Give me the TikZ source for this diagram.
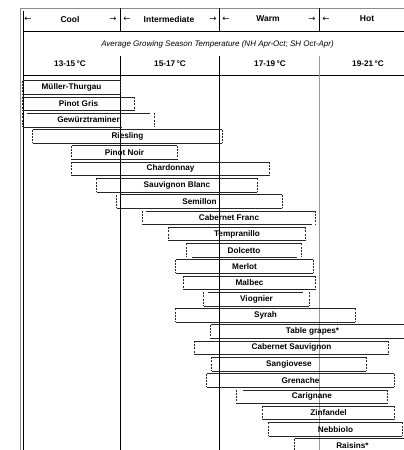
\documentclass[tikz,border=0pt]{standalone}
\usepackage{fontspec}
\setmainfont{Liberation Sans}
\newfontfamily\arrowfont{DejaVu Sans}
\tikzset{
  grape/.style={inner sep=0pt, minimum height=13pt, font=\bfseries\fontsize{8.2}{9}\selectfont},
  head/.style={inner sep=0pt, font=\bfseries\fontsize{8.5}{9}\selectfont},
  temp/.style={inner sep=0pt, font=\bfseries\fontsize{8.2}{9}\selectfont},
  harrow/.style={inner sep=0pt, font=\arrowfont\fontsize{8.5}{9}\selectfont},
  rim/.style={dash pattern=on 2pt off 1.2pt},
}

\begin{document}
\begin{tikzpicture}[x=1pt, y=-1pt, line width=0.6pt]
\useasboundingbox (0,0) rectangle (404,450);

% frame and grid
\draw[black!45] (20,450) -- (20,8) -- (404,8);
\draw (23,11) -- (23,450);
\draw (23,31) -- (404,31);
\draw (23,75.5) -- (404,75.5);
\foreach \x in {120,219.5}
  \draw (\x,8) -- (\x,31) (\x,56) -- (\x,450);
\draw (319,8) -- (319,31);
\draw[black!40] (319,56) -- (319,450);

% climate classes
\node[head] (cool) at (70,19) {Cool};
\node[head] (interm) at (169,19) {Intermediate};
\node[head] (warm) at (268,19) {Warm};
\node[head] (hot) at (367,19) {Hot};
\foreach \nm/\x/\g in {al1/28/←, ar1/113/→, al2/127/←, ar2/213/→, al3/226/←, ar3/312/→, al4/326/←}
  \node[harrow] (\nm) at (\x,19) {\g};

\node[inner sep=0pt, font=\itshape\fontsize{8}{9}\selectfont] (season) at (217.5,44)
  {Average Growing Season Temperature (NH Apr-Oct; SH Oct-Apr)};

\foreach \nm/\x/\t in {t1/70/13-15, t2/170/15-17, t3/270/17-19, t4/368/19-21}
  \node[temp] (\nm) at (\x,64) {\t\,°C};

% grape ranges
\foreach \nm/\xa/\xb/\ta/\tb/\ba/\bb/\lbl [count=\i] in {
  mt/23/120/0/0/0/0/{Müller-Thurgau},
  pg/23/134/0/0/0/0/{Pinot Gris},
  gw/23/154/4/-4/0/-32/{Gewürztraminer},
  ri/33/222/0/0/0/0/{Riesling},
  pn/72/177/0/0/0/0/{Pinot Noir},
  ch/72/269/0/0/0/0/{Chardonnay},
  sb/97/257/0/0/0/0/{Sauvignon Blanc},
  se/117/282/3/0/0/0/{Semillon},
  cf/143/315/3/0/0/-3/{Cabernet Franc},
  te/169/305/0/0/0/0/{Tempranillo},
  dc/187/301/0/0/5/-4/{Dolcetto},
  me/176/313/0/0/0/0/{Merlot},
  ma/184/315/0/0/0/0/{Malbec},
  vi/204/309/4/-6/0/0/{Viognier},
  sy/176/355/0/0/0/0/{Syrah},
  tg/211/414/0/0/0/0/{Table grapes*},
  cs/195/388/0/0/0/0/{Cabernet Sauvignon},
  sa/212/366/0/0/0/0/{Sangiovese},
  gr/207/394/0/0/0/0/{Grenache},
  ca/237/387/6/0/0/0/{Carignane},
  zi/263/394/0/0/0/0/{Zinfandel},
  ne/269/402/0/0/0/0/{Nebbiolo},
  ra/295/410/0/0/0/0/{Raisins*}} {
  \pgfmathsetmacro\w{\xb-\xa}
  \pgfmathsetmacro\xm{(\xa+\xb)/2}
  \pgfmathsetmacro\yb{87.5+16.27*(\i-1)}
  \node[grape, minimum width=\w pt] (\nm) at (\xm,\yb) {\lbl};
  \draw[black!85] ([xshift=\ta pt]\nm.north west) -- ([xshift=\tb pt]\nm.north east)
                  ([xshift=\ba pt]\nm.south west) -- ([xshift=\bb pt]\nm.south east);
  \draw[black!85, rim] (\nm.north west) -- (\nm.south west)
                       (\nm.north east) -- (\nm.south east);
}
\end{tikzpicture}
\end{document}
